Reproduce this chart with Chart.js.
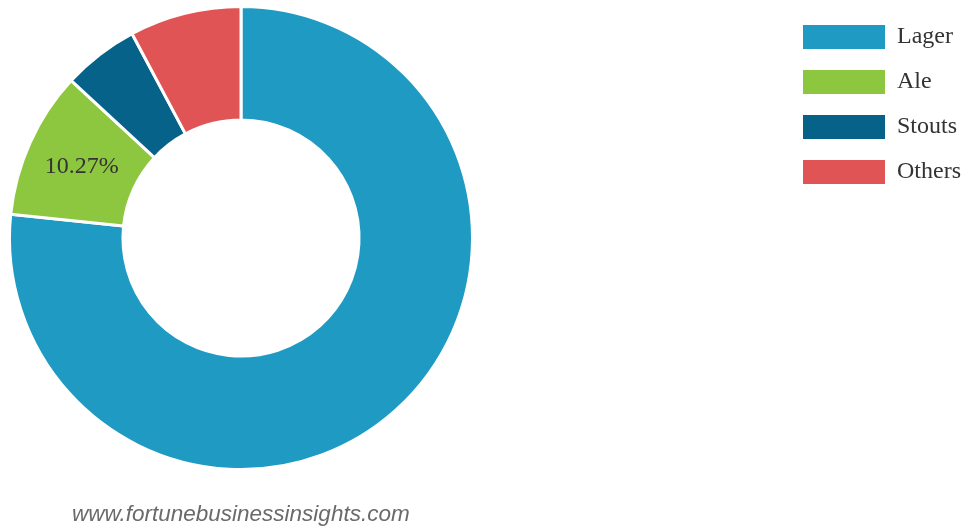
<!DOCTYPE html>
<html>
<head>
<meta charset="utf-8">
<script src="https://cdn.jsdelivr.net/npm/chart.js@4"></script>
<style>
  html, body { margin: 0; padding: 0; background: #fff; }
  #wrap { position: relative; width: 979px; height: 526px; }
</style>
</head>
<body>
<div id="wrap"><canvas id="beerChart" width="979" height="526"></canvas></div>
<script>
// Beer market share by type
const categories = ['Lager', 'Ale', 'Stouts', 'Others'];
const shareValues = [76.63, 10.27, 5.3, 7.8];
const shownLabels = ['', '10.27%', '', ''];
const sliceColors = ['#1E9AC3', '#8DC63F', '#066289', '#E15455'];

// legend drawn at the top right, boxes + serif text
const sideLegend = {
    id: 'sideLegend',
    afterDraw(chart) {
        const ctx = chart.ctx;
        ctx.save();
        ctx.font = '24px "Liberation Serif"';
        ctx.textBaseline = 'middle';
        chart.data.labels.forEach((lab, i) => {
            const y = 37 + i * 45;
            ctx.fillStyle = chart.data.datasets[0].backgroundColor[i];
            ctx.fillRect(803, y - 12, 82, 24);
            ctx.fillStyle = '#333';
            ctx.fillText(lab, 897, y);
        });
        ctx.restore();
    }
};

// percentage text inside slices
const sliceText = {
    id: 'sliceText',
    afterDatasetsDraw(chart) {
        const ctx = chart.ctx;
        const meta = chart.getDatasetMeta(0);
        ctx.save();
        ctx.font = '24px "Liberation Serif"';
        ctx.fillStyle = '#333';
        ctx.textAlign = 'center';
        ctx.textBaseline = 'middle';
        meta.data.forEach((arc, i) => {
            if (!shownLabels[i]) return;
            const p = arc.getCenterPoint();
            ctx.fillText(shownLabels[i], p.x, p.y + 1);
        });
        ctx.restore();
    }
};

const watermark = {
    id: 'watermark',
    afterDraw(chart) {
        const ctx = chart.ctx;
        ctx.save();
        ctx.font = 'italic 22.5px "Liberation Sans"';
        ctx.fillStyle = '#6a6a6a';
        ctx.textBaseline = 'alphabetic';
        ctx.fillText('www.fortunebusinessinsights.com', 72, 521);
        ctx.restore();
    }
};

const beerChart = document.getElementById('beerChart');
if (beerChart) {
    new Chart(beerChart, {
        type: 'doughnut',
        data: {
            labels: categories,
            datasets: [{
                data: shareValues,
                backgroundColor: sliceColors,
                borderColor: '#fff',
                borderWidth: 3,
                hoverOffset: 0
            }]
        },
        options: {
            responsive: false,
            animation: false,
            cutout: '51%',
            layout: {
                padding: { left: 8, top: 5, right: 505, bottom: 55 }
            },
            plugins: {
                legend: { display: false },
                tooltip: { enabled: false }
            }
        },
        plugins: [sideLegend, sliceText, watermark]
    });
}
</script>
</body>
</html>
